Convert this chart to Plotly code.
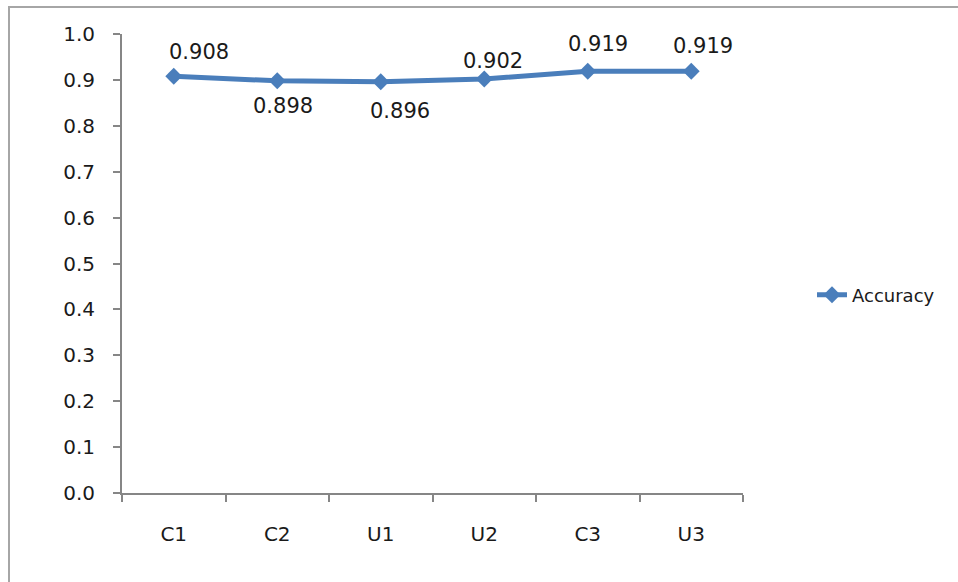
import plotly.graph_objects as go

# Data
categories = ["C1", "C2", "U1", "U2", "C3", "U3"]
accuracy = [0.908, 0.898, 0.896, 0.902, 0.919, 0.919]
y_ticks = [0.0, 0.1, 0.2, 0.3, 0.4, 0.5, 0.6, 0.7, 0.8, 0.9, 1.0]

# Label offsets (pixels) relative to each marker
label_offsets = [(25, 24), (6, -25), (19, -29), (9, 18), (10, 27), (12, 25)]

LINE_COLOR = "#4A7EBB"
AXIS_COLOR = "#868686"
TEXT_COLOR = "#1A1A1A"
FONT = "DejaVu Sans"

W, H = 958, 582
ML, MR, MT, MB = 122, 215, 34, 89
pw, ph = W - ML - MR, H - MT - MB

fig = go.Figure()
fig.add_trace(go.Scatter(
    x=categories, y=accuracy, mode="lines+markers", name="Accuracy",
    line=dict(color=LINE_COLOR, width=5),
    marker=dict(symbol="diamond", size=13, color=LINE_COLOR),
))

annotations = []
for cat, val, (dx, dy) in zip(categories, accuracy, label_offsets):
    annotations.append(dict(
        x=cat, y=val, text=f"{val:.3f}", showarrow=False,
        xshift=dx, yshift=dy,
        font=dict(family=FONT, size=21, color=TEXT_COLOR),
    ))

# outer chart border (extends past right/bottom edges)
def px_x(p):
    return (p - ML) / pw

def px_y(p):
    return (H - MB - p) / ph

shapes = [dict(
    type="rect", xref="paper", yref="paper",
    x0=px_x(9), x1=px_x(990), y0=px_y(620), y1=px_y(7),
    line=dict(color="#A6A6A6", width=2), fillcolor="rgba(0,0,0,0)",
    layer="below",
)]

fig.update_layout(
    width=W, height=H,
    margin=dict(l=ML, r=MR, t=MT, b=MB),
    paper_bgcolor="white", plot_bgcolor="white",
    font=dict(family=FONT, size=20, color=TEXT_COLOR),
    showlegend=True,
    legend=dict(x=px_x(812), y=px_y(295), xanchor="left", yanchor="middle",
                font=dict(family=FONT, size=18, color=TEXT_COLOR),
                bgcolor="rgba(0,0,0,0)"),
    annotations=annotations,
    shapes=shapes,
)
fig.update_xaxes(
    type="category", categoryorder="array", categoryarray=categories,
    range=[-0.5, len(categories) - 0.5],
    showline=True, linecolor=AXIS_COLOR, linewidth=2,
    ticks="outside", tickson="boundaries", ticklen=7, tickcolor=AXIS_COLOR, tickwidth=2,
    ticklabelstandoff=22, showgrid=False, zeroline=False,
    tickfont=dict(family=FONT, size=20, color=TEXT_COLOR),
)
fig.update_yaxes(
    range=[0, 1], tickvals=y_ticks, tickformat=".1f",
    showline=True, linecolor=AXIS_COLOR, linewidth=2,
    ticks="outside", ticklen=7, tickcolor=AXIS_COLOR, tickwidth=2,
    ticklabelstandoff=14, showgrid=False, zeroline=False,
    tickfont=dict(family=FONT, size=20, color=TEXT_COLOR),
)

fig.write_html("out.html")
